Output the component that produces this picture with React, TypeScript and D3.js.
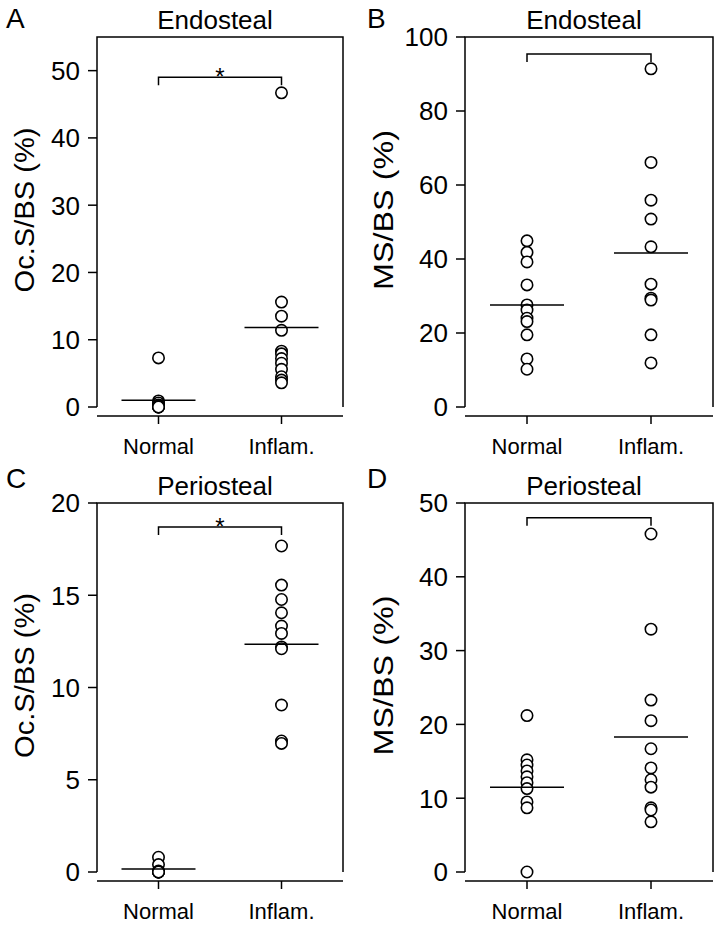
import * as d3 from 'd3';
import React from 'react';

// groups on the x axis
const groups = ['Normal', 'Inflam.'];

// A: endosteal Oc.S/BS
const endoOcNormal = [7.3, 0.9, 0.6, 0.3, 0.1, 0, 0, 0, 0];
const endoOcInflam = [46.7, 15.6, 13.5, 11.4, 8.3, 7.9, 7.2, 6.5, 5.6, 4.5, 4.0, 3.6];
const endoOcMeans = [1.0, 11.8];

// B: endosteal MS/BS
const endoMsNormal = [44.9, 41.8, 39.2, 33.0, 27.6, 26.2, 24.0, 23.1, 19.5, 13.0, 10.2];
const endoMsInflam = [91.4, 66.1, 55.9, 50.8, 43.3, 33.2, 29.4, 28.9, 19.5, 11.9];
const endoMsMeans = [27.6, 41.6];

// C: periosteal Oc.S/BS
const perioOcNormal = [0.8, 0.4, 0.05, 0, 0, 0, 0, 0];
const perioOcInflam = [17.67, 15.55, 14.77, 14.05, 13.33, 12.93, 12.2, 12.1, 9.05, 7.1, 6.97];
const perioOcMeans = [0.16, 12.35];

// D: periosteal MS/BS
const perioMsNormal = [21.2, 15.2, 14.5, 13.7, 12.9, 12.1, 11.3, 9.5, 8.7, 0];
const perioMsInflam = [45.8, 32.9, 23.3, 20.5, 16.7, 14.1, 12.5, 11.5, 8.7, 8.4, 6.8];
const perioMsMeans = [11.5, 18.3];

const yMax = [55, 100, 20, 50];
const yTicks = [
  [0, 10, 20, 30, 40, 50],
  [0, 20, 40, 60, 80, 100],
  [0, 5, 10, 15, 20],
  [0, 10, 20, 30, 40, 50],
];
const bracketValues = [49, 95.4, 18.7, 48];
const stars = ['*', '', '*', ''];
const titles = ['Endosteal', 'Endosteal', 'Periosteal', 'Periosteal'];
const yLabels = ['Oc.S/BS (%)', 'MS/BS (%)', 'Oc.S/BS (%)', 'MS/BS (%)'];
const letters = ['A', 'B', 'C', 'D'];

const panels = [
  { values: [endoOcNormal, endoOcInflam], means: endoOcMeans },
  { values: [endoMsNormal, endoMsInflam], means: endoMsMeans },
  { values: [perioOcNormal, perioOcInflam], means: perioOcMeans },
  { values: [perioMsNormal, perioMsInflam], means: perioMsMeans },
];

const font = 'Liberation Sans, Arial, sans-serif';

function Panel({ i }: { i: number }) {
  const col = i % 2, row = Math.floor(i / 2);
  const left = col === 0 ? 97 : 465;
  const width = col === 0 ? 246 : 248;
  const top = row === 0 ? 37 : 503;
  const bottom = row === 0 ? 407 : 872;
  const p = panels[i];

  const x = d3.scalePoint().domain(groups).range([left, left + width]).padding(0.5);
  const y = d3.scaleLinear().domain([0, yMax[i]]).range([bottom, top]);
  const axisY = bottom + 9;
  const midY = (top + bottom) / 2;
  const labelX = col === 0 ? 34 : 393;
  const labelLen = yLabels[i].startsWith('Oc') ? 165 : 160;
  const bx1 = x(groups[0])!, bx2 = x(groups[1])!;
  const by = y(bracketValues[i]);

  return (
    <g>
      <text x={col === 0 ? 6 : 367} y={row === 0 ? 28 : 488} fontSize={28} fontFamily={font}>{letters[i]}</text>
      <text x={left + width / 2 - 5} y={top - 8} fontSize={26} fontFamily={font} textAnchor="middle">{titles[i]}</text>
      <text transform={`translate(${labelX},${midY - 12}) rotate(-90)`} fontSize={28} fontFamily={font}
        textAnchor="middle" textLength={labelLen} lengthAdjust="spacingAndGlyphs">{yLabels[i]}</text>

      {/* frame */}
      <path d={`M${left},${bottom}V${top}H${left + width}V${bottom}`} fill="none" stroke="#000" strokeWidth={1.5} />
      <line x1={left} x2={left + width} y1={axisY} y2={axisY} stroke="#000" strokeWidth={1.5} />

      {yTicks[i].map((t) => (
        <g key={t}>
          <line x1={left - 9} x2={left} y1={y(t)} y2={y(t)} stroke="#000" strokeWidth={1.5} />
          <text x={left - 17} y={y(t)} dy="0.36em" fontSize={26} fontFamily={font} textAnchor="end">{t}</text>
        </g>
      ))}

      {groups.map((g) => (
        <g key={g}>
          <line x1={x(g)} x2={x(g)} y1={axisY} y2={axisY + 8} stroke="#000" strokeWidth={1.5} />
          <text x={x(g)} y={axisY + 38} fontSize={22} fontFamily={font} textAnchor="middle">{g}</text>
        </g>
      ))}

      {/* bracket */}
      <path d={`M${bx1},${by + 8}V${by}H${bx2}V${by + 8}`} fill="none" stroke="#000" strokeWidth={1.5} />
      {stars[i] && (
        <text x={(bx1 + bx2) / 2} y={by + 8} fontSize={24} fontFamily={font} textAnchor="middle">{stars[i]}</text>
      )}

      {groups.map((g, gi) => (
        <g key={g}>
          {p.values[gi].map((v, k) => (
            <circle key={k} cx={x(g)} cy={y(v)} r={5.7} fill="#fff" stroke="#000" strokeWidth={1.6} />
          ))}
          <line x1={x(g)! - 37} x2={x(g)! + 37} y1={y(p.means[gi])} y2={y(p.means[gi])} stroke="#000" strokeWidth={1.5} />
        </g>
      ))}
    </g>
  );
}

export default function App() {
  return (
    <svg width={719} height={925} style={{ position: 'absolute', left: 0, top: 0, background: '#fff' }}>
      {[0, 1, 2, 3].map((i) => <Panel key={i} i={i} />)}
    </svg>
  );
}
